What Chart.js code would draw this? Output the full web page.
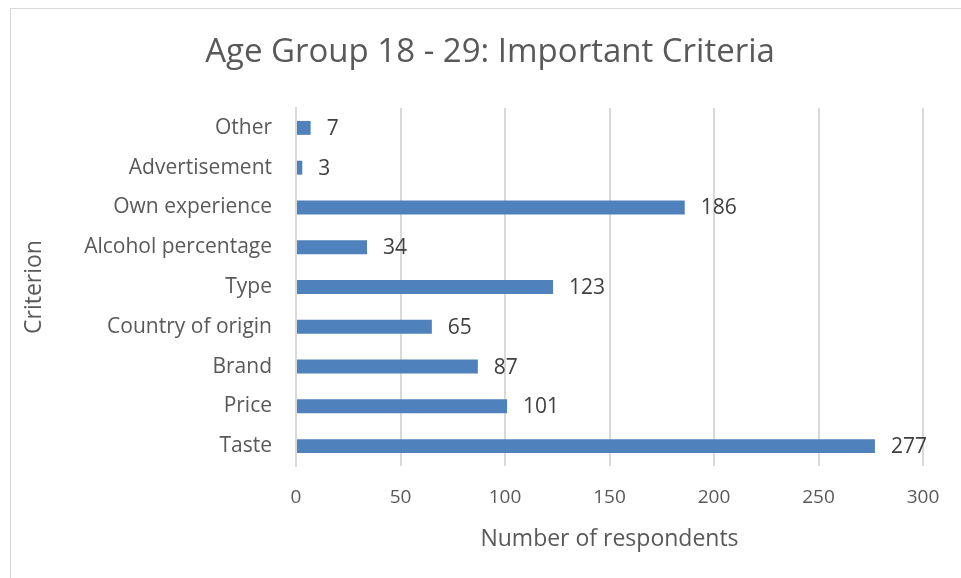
<!DOCTYPE html>
<html>
<head>
<meta charset="utf-8">
<script src="https://cdn.jsdelivr.net/npm/chart.js@4"></script>
<style>
  html, body { margin: 0; padding: 0; background: #ffffff; overflow: hidden; }
  #wrap { position: relative; width: 961px; height: 578px; }
  #frame { position: absolute; left: 10px; top: 8px; width: 1000px; height: 600px;
           border: 1px solid #d9d9d9; box-sizing: border-box; }
  canvas { position: absolute; left: 0; top: 0; }
</style>
</head>
<body>
<div id="wrap">
  <div id="frame"></div>
  <canvas id="chart" width="961" height="578"></canvas>
</div>
<script>
// Criteria listed top to bottom as they appear on the axis
const criteria = ['Other', 'Advertisement', 'Own experience', 'Alcohol percentage', 'Type',
                  'Country of origin', 'Brand', 'Price', 'Taste'];
const respondents = [7, 3, 186, 34, 123, 65, 87, 101, 277];
const xTicks = [0, 50, 100, 150, 200, 250, 300];
const chartTitle = 'Age Group 18 - 29: Important Criteria';

const FONT = "'Open Sans', 'Noto Sans', sans-serif";

// Writes each bar's value just past its end
const valueLabels = {
  id: 'valueLabels',
  afterDatasetsDraw(chart) {
    const ctx = chart.ctx;
    const meta = chart.getDatasetMeta(0);
    ctx.save();
    ctx.font = '21px ' + FONT;
    ctx.fillStyle = '#404040';
    ctx.textAlign = 'left';
    ctx.textBaseline = 'middle';
    meta.data.forEach((bar, i) => {
      ctx.fillText(String(chart.data.datasets[0].data[i]), bar.x + 16, bar.y + 1);
    });
    ctx.restore();
  }
};

// Chart heading, centred across the framed area
const heading = {
  id: 'heading',
  afterDraw(chart) {
    const ctx = chart.ctx;
    ctx.save();
    ctx.font = '33px ' + FONT;
    ctx.fillStyle = '#595959';
    ctx.textAlign = 'center';
    ctx.textBaseline = 'middle';
    ctx.fillText(chartTitle, 490, 53);
    ctx.restore();
  }
};

new Chart(document.getElementById('chart'), {
  type: 'bar',
  data: {
    labels: criteria,
    datasets: [{
      data: respondents,
      backgroundColor: '#4f81bd',
      borderWidth: 0,
      categoryPercentage: 1,
      barPercentage: 0.35
    }]
  },
  options: {
    indexAxis: 'y',
    responsive: false,
    animation: false,
    layout: { padding: { left: 0, right: 38, top: 108, bottom: 0 } },
    plugins: {
      legend: { display: false },
      tooltip: { enabled: false },
      title: { display: false }
    },
    scales: {
      x: {
        min: 0,
        max: 300,
        afterBuildTicks(scale) { scale.ticks = xTicks.map(v => ({ value: v })); },
        afterFit(scale) { scale.height = 112; },
        grid: { color: '#d9d9d9', lineWidth: 2, drawTicks: false },
        border: { display: false },
        ticks: { color: '#595959', font: { family: FONT, size: 19 }, padding: 20 },
        title: {
          display: true,
          text: 'Number of respondents',
          color: '#595959',
          font: { family: FONT, size: 23 },
          padding: { top: 0, bottom: 25 }
        }
      },
      y: {
        afterFit(scale) { scale.width = 296; },
        grid: { display: false, drawTicks: false },
        border: { display: true, color: '#d9d9d9', width: 2 },
        ticks: { color: '#595959', font: { family: FONT, size: 21 }, padding: 24 },
        title: {
          display: true,
          text: 'Criterion',
          color: '#595959',
          font: { family: FONT, size: 23 },
          padding: { top: 21, bottom: 0 }
        }
      }
    }
  },
  plugins: [valueLabels, heading]
});
</script>
</body>
</html>
